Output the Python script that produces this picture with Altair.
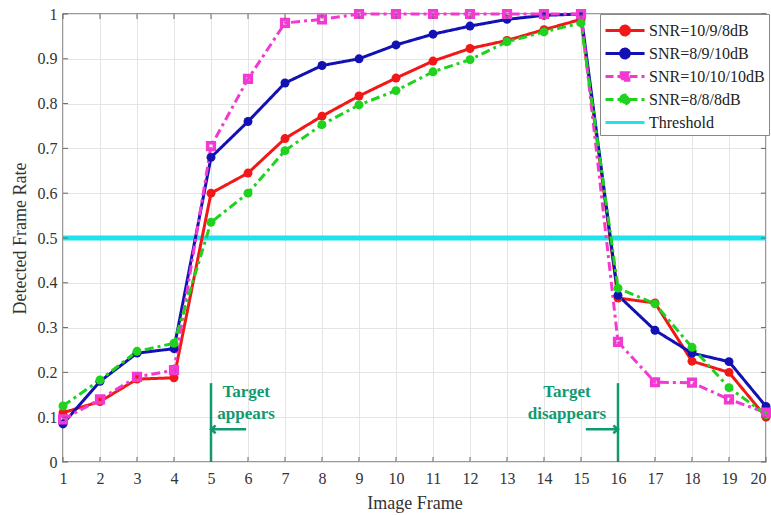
import altair as alt
import pandas as pd

frames = list(range(1, 21))
snr_10_9_8 = [0.11, 0.135, 0.185, 0.188, 0.60, 0.645, 0.722, 0.772, 0.817, 0.857,
              0.895, 0.923, 0.941, 0.965, 0.988, 0.366, 0.355, 0.225, 0.200, 0.100]
snr_8_9_10 = [0.085, 0.18, 0.243, 0.253, 0.68, 0.76, 0.846, 0.885, 0.90, 0.931,
              0.955, 0.973, 0.988, 0.997, 1.0, 0.372, 0.294, 0.243, 0.224, 0.124]
snr_10_10_10 = [0.095, 0.14, 0.19, 0.205, 0.705, 0.855, 0.98, 0.988, 1.0, 1.0,
                1.0, 1.0, 1.0, 1.0, 1.0, 0.268, 0.178, 0.177, 0.14, 0.11]
snr_8_8_8 = [0.125, 0.183, 0.247, 0.265, 0.535, 0.60, 0.695, 0.753, 0.797, 0.829,
             0.871, 0.898, 0.938, 0.96, 0.98, 0.388, 0.353, 0.256, 0.166, 0.106]
series_names = ["SNR=10/9/8dB", "SNR=8/9/10dB", "SNR=10/10/10dB", "SNR=8/8/8dB"]
threshold_name = "Threshold"
threshold_value = 0.5

y_ticks = [0, 0.1, 0.2, 0.3, 0.4, 0.5, 0.6, 0.7, 0.8, 0.9, 1.0]

# annotations
event_frames = [5, 16]
event_labels_1 = ["Target", "Target"]
event_labels_2 = ["appears", "disappears"]
event_text_x = [5.95, 14.62]
event_line_top = 0.176
event_text_y1 = 0.156
event_text_y2 = 0.108
arrow_y = 0.073
arrow_tail_x = [5.95, 15.13]

colors = ["#f21818", "#1212b4", "#f23ad2", "#1ed21e", "#1ee3ec"]
dashes = [[1, 0], [1, 0], [9, 4, 3, 4], [9, 4, 3, 4]]
ann_color = "#11996f"
FONT = "Liberation Serif"

rows = []
for name, vals in zip(series_names, [snr_10_9_8, snr_8_9_10, snr_10_10_10, snr_8_8_8]):
    for f, v in zip(frames, vals):
        rows.append({"frame": f, "rate": v, "series": name})
df = pd.DataFrame(rows)

domain = series_names + [threshold_name]

x_scale = alt.Scale(domain=[1, 20], nice=False, zero=False)
y_scale = alt.Scale(domain=[0, 1], nice=False, zero=False)
color_scale = alt.Scale(domain=domain, range=colors)

# legend glyphs (line + marker), unit coords scaled by sqrt(symbolSize)/2
circle_line = "M-1,0L2.55,0M0.375,0A0.4,0.4,0,1,1,1.175,0A0.4,0.4,0,1,1,0.375,0Z"
square_line = "M-1,0L2.55,0M0.425,-0.33L1.125,-0.33L1.125,0.33L0.425,0.33Z"
plain_line = "M-1,0L2.55,0"

shape_expr = ("datum.value === 'Threshold' ? '" + plain_line + "' : (datum.value === 'SNR=10/10/10dB' ? '"
              + square_line + "' : '" + circle_line + "')")
dash_expr = "(datum.value === 'SNR=10/10/10dB' || datum.value === 'SNR=8/8/8dB') ? [8,4] : [1,0]"

legend = alt.Legend(
    title=None,
    orient="none",
    legendX=537,
    legendY=0,
    labelFont=FONT,
    labelFontSize=16,
    labelColor="#222",
    symbolSize=484,
    symbolStrokeWidth=3,
    symbolType={"expr": shape_expr},
    symbolDash={"expr": dash_expr},
    symbolOpacity=1,
    strokeColor="#888",
    fillColor="white",
    padding=4,
    rowPadding=0,
    labelOffset=20,
)

x_enc = alt.X("frame:Q", scale=x_scale, title="Image Frame",
              axis=alt.Axis(values=frames, format="d", tickCount=20, grid=True, gridColor="#e4e4e4",
                            domain=False, ticks=False, labelFont=FONT, labelFontSize=16,
                            labelColor="#333", labelPadding=8, labelOverlap=False,
                            labelBound=False, labelFlush=False,
                            labelAlign={"expr": "datum.value === 20 ? 'right' : 'center'"},
                            titleFont=FONT,
                            titleFontSize=18, titleFontWeight="normal", titleColor="#333",
                            titlePadding=8))
y_enc = alt.Y("rate:Q", scale=y_scale, title="Detected Frame Rate",
              axis=alt.Axis(values=y_ticks, format="~g", grid=True, gridColor="#e4e4e4",
                            domain=False, ticks=False, labelFont=FONT, labelFontSize=16,
                            labelColor="#333", labelPadding=6, labelOverlap=False,
                            labelFlush=False, titleFont=FONT,
                            titleFontSize=18, titleFontWeight="normal", titleColor="#333",
                            titlePadding=8))

base = alt.Chart(df)

lines = base.mark_line(strokeWidth=3).encode(
    x=x_enc,
    y=y_enc,
    color=alt.Color("series:N", scale=color_scale, legend=legend),
    strokeDash=alt.StrokeDash("series:N", scale=alt.Scale(domain=series_names, range=dashes), legend=None),
    order=alt.Order("frame:Q"),
)

pts_circle = base.transform_filter(alt.datum.series != "SNR=10/10/10dB").mark_point(
    filled=True, size=80, opacity=1, shape="circle").encode(
    x=x_enc, y=y_enc,
    color=alt.Color("series:N", scale=color_scale, legend=legend),
)
pts_square = base.transform_filter(alt.datum.series == "SNR=10/10/10dB").mark_point(
    filled=False, size=45, opacity=1, shape="square", strokeWidth=3.5).encode(
    x=x_enc, y=y_enc,
    color=alt.Color("series:N", scale=color_scale, legend=legend),
)

thr = alt.Chart(pd.DataFrame({"rate": [threshold_value], "series": [threshold_name]})).mark_rule(
    strokeWidth=5).encode(
    y=y_enc,
    color=alt.Color("series:N", scale=color_scale, legend=legend),
)

ev = pd.DataFrame({
    "frame": event_frames,
    "tx": event_text_x,
    "t1": event_labels_1,
    "t2": event_labels_2,
    "top": [event_line_top] * 2,
    "bottom": [0, 0],
    "ty1": [event_text_y1] * 2,
    "ty2": [event_text_y2] * 2,
    "ay": [arrow_y] * 2,
    "tail": arrow_tail_x,
})
ev_chart = alt.Chart(ev)
vlines = ev_chart.mark_rule(color=ann_color, strokeWidth=2.5).encode(
    x="frame:Q", y="bottom:Q", y2="top:Q")
arrows = ev_chart.mark_rule(color=ann_color, strokeWidth=2.5).encode(
    x="tail:Q", x2="frame:Q", y="ay:Q")
head_left = ev_chart.transform_filter(alt.datum.frame == 5).mark_point(
    shape="M1.2,-1L0,0L1.2,1", filled=False, color=ann_color, strokeWidth=2.5, size=60, opacity=1).encode(
    x="frame:Q", y="ay:Q")
head_right = ev_chart.transform_filter(alt.datum.frame == 16).mark_point(
    shape="M-1.2,-1L0,0L-1.2,1", filled=False, color=ann_color, strokeWidth=2.5, size=60, opacity=1).encode(
    x="frame:Q", y="ay:Q")
txt1 = ev_chart.mark_text(font=FONT, fontSize=17, fontWeight="bold", color=ann_color,
                          align="center", baseline="middle").encode(
    x="tx:Q", y="ty1:Q", text="t1:N")
txt2 = ev_chart.mark_text(font=FONT, fontSize=17, fontWeight="bold", color=ann_color,
                          align="center", baseline="middle").encode(
    x="tx:Q", y="ty2:Q", text="t2:N")

# inward tick marks on all four sides
tick_x = alt.Chart(pd.DataFrame({"frame": frames}))
ticks_bottom = tick_x.mark_rule(color="#666", strokeWidth=1).encode(
    x="frame:Q", y=alt.value(448), y2=alt.value(443))
ticks_top = tick_x.mark_rule(color="#666", strokeWidth=1).encode(
    x="frame:Q", y=alt.value(0), y2=alt.value(5))
tick_y = alt.Chart(pd.DataFrame({"rate": y_ticks}))
ticks_left = tick_y.mark_rule(color="#666", strokeWidth=1).encode(
    y="rate:Q", x=alt.value(0), x2=alt.value(5))
ticks_right = tick_y.mark_rule(color="#666", strokeWidth=1).encode(
    y="rate:Q", x=alt.value(703), x2=alt.value(698))

chart = alt.layer(
    thr, lines, pts_circle, pts_square,
    vlines, arrows, head_left, head_right, txt1, txt2,
    ticks_bottom, ticks_top, ticks_left, ticks_right,
).properties(
    width=703, height=448,
    autosize=alt.AutoSizeParams(type="none"),
    padding={"left": 63, "top": 14, "right": 5, "bottom": 53},
    background="white",
).configure_view(
    stroke="#777", strokeWidth=1.5
).configure_axisX(
    labelOverlap=False
)

chart.save("out.html", embed_options={"renderer": "svg", "actions": False})
